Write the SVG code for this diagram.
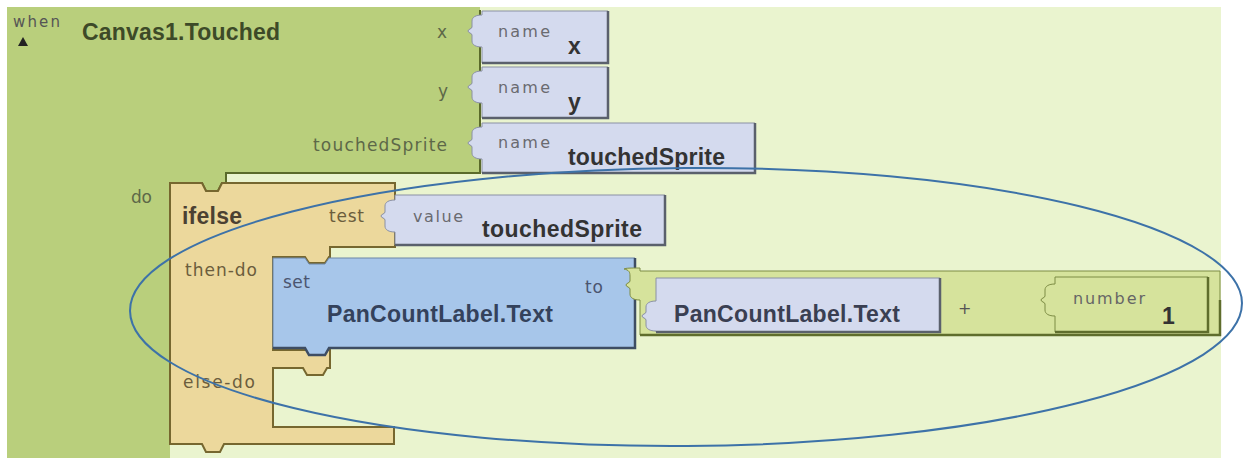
<svg xmlns="http://www.w3.org/2000/svg" width="1243" height="458" viewBox="0 0 1243 458">
<style>
.t{font-family:"Liberation Sans",Arial,sans-serif}
.s{font-family:"DejaVu Sans",Verdana,sans-serif}
.lbl{font-size:17px;fill:#5d6848}
.tan{font-size:17px;fill:#6b5d3d}
.sm{font-size:16px;fill:#6a6a70}
.big{font-size:23px;font-weight:bold}
.nameblk{fill:#d4daee;stroke:#8a90a4;stroke-width:1}
.shadow{fill:none;stroke:#5a606c;stroke-width:2.5}
.olive{fill:#d6e39c;stroke:#7d8c44;stroke-width:1}
.oshadow{fill:none;stroke:#5f6d2c;stroke-width:2.5}
</style>
<rect x="0" y="0" width="1243" height="458" fill="#ffffff"/>
<rect x="7" y="7" width="1214" height="451" fill="#eaf4cf"/>

<g id="when">
<path d="M7,7 H480 V173 H226 V183 H222 l-4,8 h-12 l-4,-8 H170 V458 H7 Z" fill="#b9cf7c"/>
<path d="M480,10 V173 H226 V183 H222 l-4,8 h-12 l-4,-8 H170" fill="none" stroke="#5a6a2a" stroke-width="2"/>
<text class="s" x="13" y="27" font-size="15" fill="#555" textLength="47">when</text>
<polygon points="18,46 23,37 28,46" fill="#222"/>
<text class="t big" x="82" y="40" fill="#3d4a28" textLength="198">Canvas1.Touched</text>
<text class="s lbl" x="437" y="38">x</text>
<text class="s lbl" x="438" y="97">y</text>
<text class="s lbl" x="313" y="151" textLength="134">touchedSprite</text>
<text class="s lbl" x="131" y="203" textLength="21">do</text>
</g>

<g id="name-x">
<path class="nameblk" d="M482,11 H608 V63 H482 V47 c-6,0 -10,-2 -10,-6 v-6 c0,-2 -4,-2 -4,-4 c0,-2 4,-2 4,-4 v-6 c0,-4 4,-6 10,-6 Z"/>
<path class="shadow" d="M608,11 V63 H482"/>
<text class="s sm" x="498" y="37" textLength="52">name</text>
<text class="t big" x="568" y="54" fill="#333" font-size="24">x</text>
</g>

<g id="name-y">
<path class="nameblk" d="M482,67 H608 V118 H482 V103 c-6,0 -10,-2 -10,-6 v-6 c0,-2 -4,-2 -4,-4 c0,-2 4,-2 4,-4 v-6 c0,-4 4,-6 10,-6 Z"/>
<path class="shadow" d="M608,67 V118 H482"/>
<text class="s sm" x="498" y="93" textLength="52">name</text>
<text class="t big" x="568" y="110" fill="#333" font-size="24">y</text>
</g>

<g id="name-touchedSprite">
<path class="nameblk" d="M482,123 H755 V173 H482 V159 c-6,0 -10,-2 -10,-6 v-6 c0,-2 -4,-2 -4,-4 c0,-2 4,-2 4,-4 v-6 c0,-4 4,-6 10,-6 Z"/>
<path class="shadow" d="M755,123 V173 H482"/>
<text class="s sm" x="498" y="148" textLength="52">name</text>
<text class="t big" x="568" y="165" fill="#333" textLength="157">touchedSprite</text>
</g>

<g id="ifelse">
<path d="M170,183 H202 l4,8 h12 l4,-8 H395 V247 H330 V257 H329 l-4,6 h-16 l-4,-6 H273 V350 H330 V368 H327 l-4,7 h-16 l-4,-7 H273 V427 H394 V444 H224 l-4,8 h-14 l-4,-8 H170 Z" fill="#ecd89c" stroke="#76672f" stroke-width="2"/>
<text class="t big" x="182" y="224" fill="#4b4132" font-size="22" textLength="60">ifelse</text>
<text class="s tan" x="329" y="222" textLength="35">test</text>
<text class="s tan" x="185" y="276" textLength="72">then-do</text>
<text class="s tan" x="183" y="388" textLength="72">else-do</text>
</g>

<g id="value-touchedSprite">
<path class="nameblk" d="M395,195 H665 V245 H395 V232 c-6,0 -10,-2 -10,-6 v-6 c0,-2 -4,-2 -4,-4 c0,-2 4,-2 4,-4 v-6 c0,-4 4,-6 10,-6 Z"/>
<path class="shadow" d="M665,195 V245 H395"/>
<text class="s sm" x="413" y="222" textLength="50">value</text>
<text class="t big" x="482" y="237" fill="#333" textLength="160">touchedSprite</text>
</g>

<g id="set">
<path d="M273,258 H305 l4,6 h16 l4,-6 H635 V348 H329 l-4,7 h-16 l-4,-7 H273 Z" fill="#a7c6ea" stroke="#6d86a6" stroke-width="1"/>
<path d="M635,258 V348 H329 l-4,7 h-16 l-4,-7 H273" fill="none" stroke="#3e4d63" stroke-width="2.5"/>
<text class="s" x="283" y="288" font-size="17" fill="#4b5570" textLength="27">set</text>
<text class="t big" x="327" y="322" fill="#34425c" textLength="226">PanCountLabel.Text</text>
<text class="s" x="585" y="293" font-size="17" fill="#4b5570" textLength="18">to</text>
</g>

<g id="plus">
<path class="olive" d="M640,271 H1220 V335 H640 V300 c-6,0 -10,-2 -10,-6 v-5 c0,-2 -4,-2 -4,-4 c0,-2 4,-2 4,-4 v-5 c0,-4 -1,-6 -6,-7 c2,-1 6,-1 16,-1 Z"/>
<path class="oshadow" d="M1220,300 V335 H640"/>
<text class="s" x="958" y="314" font-size="16" fill="#555">+</text>
</g>

<g id="getter">
<path class="nameblk" d="M656,278 H940 V332 H656 V331 c-6,0 -10,-2 -10,-6 v-5 c0,-2 -4,-2 -4,-4 c0,-2 4,-2 4,-4 v-5 c0,-4 4,-6 10,-6 Z"/>
<path class="shadow" d="M940,278 V332 H656"/>
<text class="t big" x="674" y="322" fill="#3a3f52" textLength="226">PanCountLabel.Text</text>
</g>

<g id="number">
<path class="olive" fill="#d9e5a2" d="M1055,277 H1208 V332 H1055 V316 c-6,0 -10,-2 -10,-6 v-6 c0,-2 -4,-2 -4,-4 c0,-2 4,-2 4,-4 v-6 c0,-4 4,-6 10,-6 Z"/>
<path class="oshadow" d="M1208,277 V332 H1055"/>
<text class="s" x="1073" y="304" font-size="16" fill="#666" textLength="72">number</text>
<text class="t big" x="1162" y="324" fill="#333" font-size="22">1</text>
</g>

<g id="annotation">
<ellipse cx="686" cy="307" rx="556" ry="139" transform="rotate(-0.4 686 307)" fill="none" stroke="#3d72a8" stroke-width="2"/>
</g>
</svg>
